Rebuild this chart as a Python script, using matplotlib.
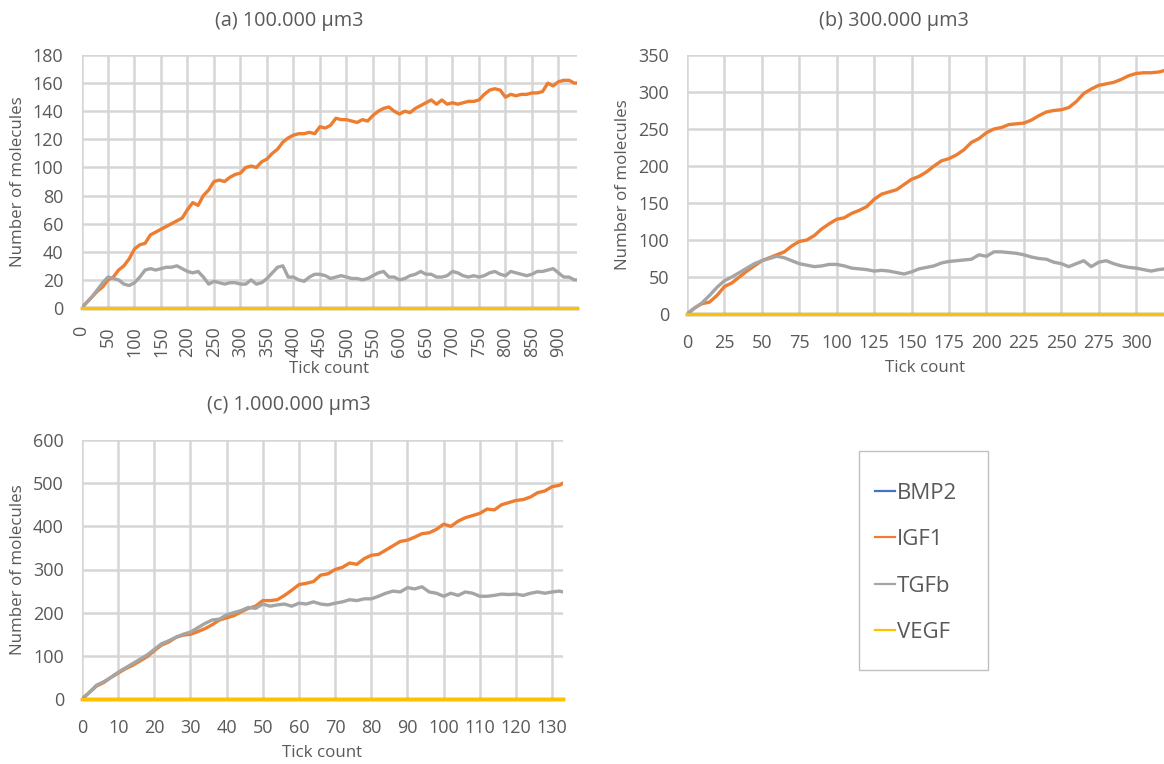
import matplotlib
matplotlib.use("Agg")
import matplotlib.pyplot as plt
from matplotlib.lines import Line2D
from matplotlib.patches import Rectangle

plt.rcParams['font.family'] = ['Open Sans', 'DejaVu Sans']

# ---- data ----
# (a) 100.000 um3, every 10 ticks
a_x = list(range(0, 940, 10)) + [935]
a_igf1 = [0, 4, 8, 12, 15, 20, 22, 27, 30, 35, 42, 45, 46, 52, 54, 56, 58, 60, 62, 64,
          70, 75, 73, 80, 84, 90, 91, 90, 93, 95, 96, 100, 101, 100, 104, 106, 110, 113, 118, 121,
          123, 124, 124, 125, 124, 129, 128, 130, 135, 134, 134, 133, 132, 134, 133, 137, 140, 142, 143, 140,
          138, 140, 139, 142, 144, 146, 148, 145, 148, 145, 146, 145, 146, 147, 147, 148, 152, 155, 156, 155,
          150, 152, 151, 152, 152, 153, 153, 154, 160, 158, 161, 162, 162, 160, 160]
a_tgfb = [0, 4, 8, 13, 18, 22, 21, 20, 17, 16, 18, 22, 27, 28, 27, 28, 29, 29, 30, 28,
          26, 25, 26, 22, 17, 19, 18, 17, 18, 18, 17, 17, 20, 17, 18, 21, 25, 29, 30, 22,
          22, 20, 19, 22, 24, 24, 23, 21, 22, 23, 22, 21, 21, 20, 21, 23, 25, 26, 22, 22,
          20, 21, 23, 24, 26, 24, 24, 22, 22, 23, 26, 25, 23, 22, 23, 22, 23, 25, 26, 24,
          23, 26, 25, 24, 23, 24, 26, 26, 27, 28, 25, 22, 22, 20, 20]
a_zero_x = [0, 935]
a_zero = [0, 0]

# (b) 300.000 um3, every 5 ticks
b_x = list(range(0, 320, 5)) + [319]
b_igf1 = [0, 8, 14, 16, 25, 37, 42, 50, 58, 65, 72, 76, 80, 84, 92, 98, 100, 106, 115, 122,
          128, 130, 136, 140, 145, 155, 162, 165, 168, 175, 182, 186, 192, 200, 207, 210, 215, 222, 232, 237,
          245, 250, 252, 256, 257, 258, 262, 268, 273, 275, 276, 279, 287, 298, 304, 309, 311, 313, 317, 322,
          325, 326, 326, 327, 329]
b_tgfb = [0, 8, 15, 25, 36, 45, 50, 56, 62, 68, 72, 75, 78, 76, 72, 68, 66, 64, 65, 67,
          67, 65, 62, 61, 60, 58, 59, 58, 56, 54, 57, 61, 63, 65, 69, 71, 72, 73, 74, 80,
          78, 84, 84, 83, 82, 80, 77, 75, 74, 70, 68, 64, 68, 72, 64, 70, 72, 68, 65, 63,
          62, 60, 58, 60, 61]
b_zero_x = [0, 319]
b_zero = [0, 0]

# (c) 1.000.000 um3, every 2 ticks
c_x = list(range(0, 134, 2)) + [133]
c_igf1 = [0, 15, 30, 38, 50, 60, 70, 78, 88, 98, 112, 125, 132, 143, 148, 150, 156, 163, 172, 183,
          188, 193, 202, 210, 215, 228, 228, 230, 240, 252, 265, 268, 272, 287, 290, 300, 305, 315, 312, 325,
          333, 335, 345, 355, 365, 368, 375, 383, 385, 393, 405, 400, 412, 420, 425, 430, 440, 438, 450, 455,
          460, 462, 468, 478, 482, 492, 495, 500]
c_tgfb = [0, 15, 32, 40, 50, 62, 72, 82, 92, 102, 115, 128, 135, 143, 150, 155, 165, 175, 183, 185,
          195, 200, 205, 212, 210, 220, 215, 218, 220, 215, 222, 220, 225, 220, 218, 222, 225, 230, 228, 232,
          232, 238, 245, 250, 248, 258, 255, 260, 248, 245, 238, 245, 240, 248, 245, 238, 238, 240, 243, 242,
          243, 240, 245, 248, 245, 248, 250, 248]
c_zero_x = [0, 133]
c_zero = [0, 0]

series_names = ['BMP2', 'IGF1', 'TGFb', 'VEGF']
colors = {'BMP2': '#4472C4', 'IGF1': '#ED7D31', 'TGFb': '#A5A5A5', 'VEGF': '#FFC000'}
txt = '#595959'
grid_c = '#D6D6D6'

W, H = 1164, 764
fig = plt.figure(figsize=(W / 100, H / 100), dpi=100)


def box(l, r, t, b):
    return [l / W, 1 - b / H, (r - l) / W, (b - t) / H]


def panel(pix, xs, igf1, tgfb, zx, zero, xlim, xt, ylim, yt, xlab_y, rot=0, xpad=14.5):
    l, r, t, b = pix
    ax = fig.add_axes(box(l, r, t, b))
    ax.plot(xs, igf1, color=colors['IGF1'], lw=2.4, zorder=3)
    ax.plot(xs, tgfb, color=colors['TGFb'], lw=2.4, zorder=3)
    ax.plot(zx, zero, color=colors['BMP2'], lw=2.4, zorder=3, clip_on=False)
    ax.plot(zx, zero, color=colors['VEGF'], lw=2.4, zorder=4, clip_on=False)
    ax.set_xlim(*xlim)
    ax.set_ylim(*ylim)
    ax.set_xticks(xt)
    ax.set_yticks(yt)
    ax.grid(True, color=grid_c, lw=1.8)
    ax.set_axisbelow(True)
    for s in ax.spines.values():
        s.set_visible(False)
    ax.tick_params(length=0, colors=txt, labelsize=13)
    ax.tick_params(axis='y', pad=13)
    ax.tick_params(axis='x', pad=xpad)
    if rot:
        for lb in ax.get_xticklabels():
            lb.set_rotation(90)
    ax.set_xlabel('Tick count', color=txt, fontsize=12.2, va='center')
    ax.xaxis.set_label_coords(0.5, (b - xlab_y) / (b - t))
    ax.set_ylabel('Number of molecules', color=txt, fontsize=12.2, labelpad=5)
    return ax


panel((81.5, 577, 55, 308), a_x, a_igf1, a_tgfb, a_zero_x, a_zero,
      (0, 935), range(0, 901, 50), (0, 180), range(0, 181, 20), 369, rot=90, xpad=13)
panel((687, 1164, 55, 314), b_x, b_igf1, b_tgfb, b_zero_x, b_zero,
      (0, 318.6), range(0, 301, 25), (0, 350), range(0, 351, 50), 368)
panel((82, 563, 440, 699), c_x, c_igf1, c_tgfb, c_zero_x, c_zero,
      (0, 133), range(0, 131, 10), (0, 600), range(0, 601, 100), 753)

# chart titles sit over the whole chart area, not the plot area
fig.text(289 / W, 1 - 21 / H, '(a) 100.000 µm3', color=txt, fontsize=14.3, ha='center', va='center')
fig.text(894 / W, 1 - 21 / H, '(b) 300.000 µm3', color=txt, fontsize=14.3, ha='center', va='center')
fig.text(289 / W, 1 - 405 / H, '(c) 1.000.000 µm3', color=txt, fontsize=14.3, ha='center', va='center')

# legend box drawn by hand to match Excel's spacing
fig.patches.append(Rectangle((859 / W, 1 - 670 / H), (988 - 859) / W, (670 - 451) / H,
                             transform=fig.transFigure, facecolor='white',
                             edgecolor='#BFBFBF', lw=1.0))
rows = [491, 537, 584, 630]
for name, yy in zip(series_names, rows):
    fig.add_artist(Line2D([875 / W, 895 / W], [1 - yy / H, 1 - yy / H],
                          transform=fig.transFigure, color=colors[name], lw=1.6))
    fig.text(897 / W, 1 - yy / H, name, color=txt, fontsize=16, ha='left', va='center_baseline')

fig.savefig('out.png', dpi=100)
